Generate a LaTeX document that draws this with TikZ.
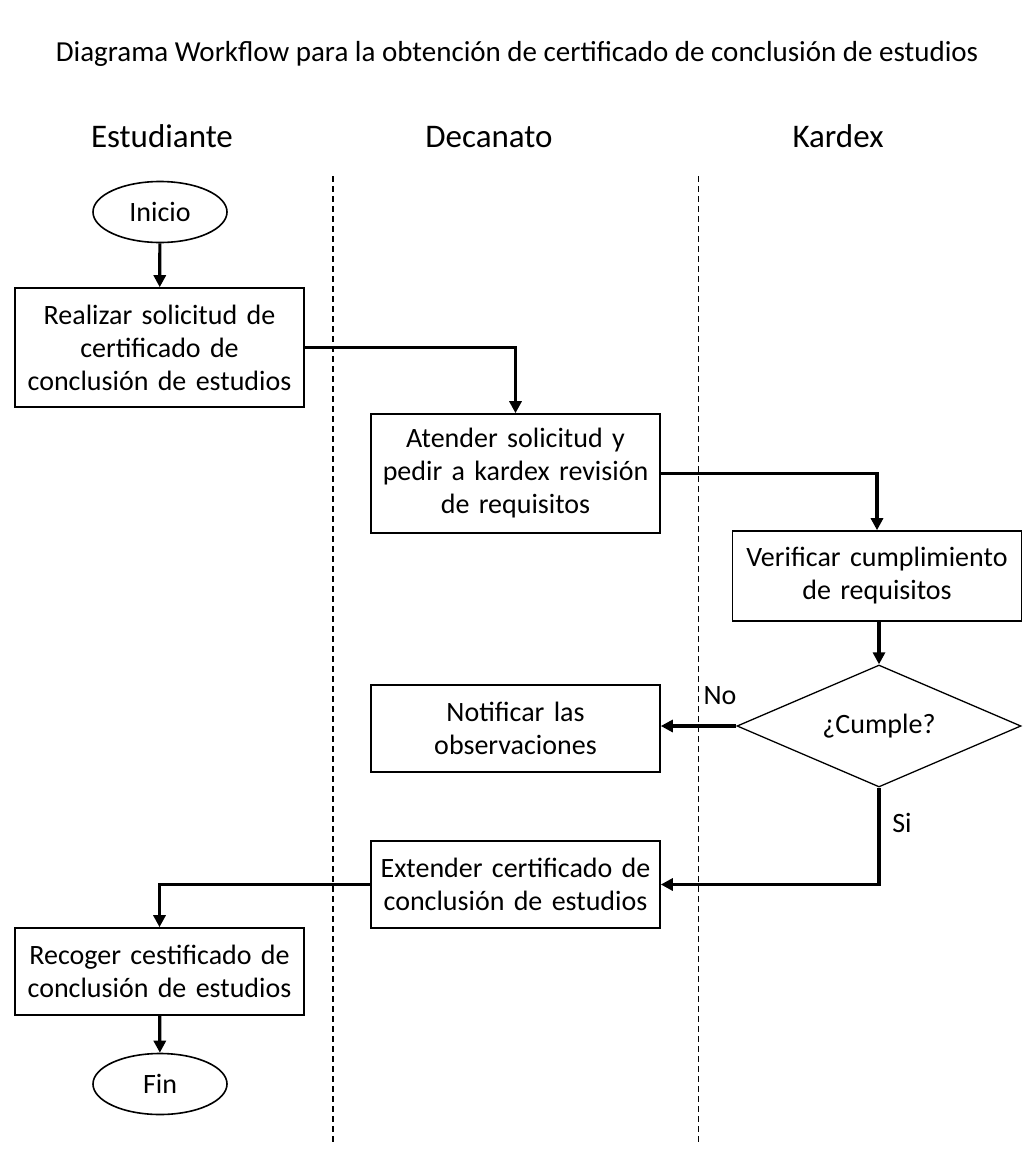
\documentclass[tikz,border=0pt]{standalone}
\usepackage{fontspec}
\setmainfont{Carlito}
\usetikzlibrary{shapes.geometric,arrows.meta}
\tikzset{
  procbox/.style={draw, line width=1.6pt, minimum width=289pt, text width=287pt, align=center, inner sep=0pt, font=\fontsize{28}{33}\selectfont},
  term/.style={draw, ellipse, line width=1.6pt, minimum width=134pt, minimum height=61pt, inner sep=0pt, font=\fontsize{28}{33}\selectfont},
  decision/.style={draw, diamond, shape aspect=2.33, line width=1.3pt, minimum width=284pt, minimum height=122pt, inner sep=0pt, font=\fontsize{28}{33}\selectfont},
  flow/.style={line width=3.2pt, -{Triangle[length=12pt,width=12pt]}},
  lane/.style={dashed, dash pattern=on 6pt off 4pt},
  lbl/.style={font=\fontsize{28}{32}\selectfont, inner sep=0pt},
  hdr/.style={font=\fontsize{33}{36}\selectfont, inner sep=0pt, anchor=base},
}
\begin{document}
\begin{tikzpicture}[x=1pt,y=-1pt]
\useasboundingbox (0,0) rectangle (1032,1149);
\fill[white] (0,0) rectangle (1032,1149);
% title & headers
\node[lbl, anchor=base, font=\fontsize{29}{32}\selectfont] (title) at (517,61) {Diagrama Workflow para la obtención de certificado de conclusión de estudios};
\node[hdr] (h1) at (162,147) {Estudiante};
\node[hdr] (h2) at (489,147) {Decanato};
\node[hdr] (h3) at (838,147) {Kardex};
% lanes
\coordinate (l1t) at (333,176); \coordinate (l1b) at (333,1145);
\coordinate (l2t) at (698,176); \coordinate (l2b) at (698,1145);
\draw[lane, line width=1.6pt] (l1t) -- (l1b);
\draw[lane, line width=0.9pt] (l2t) -- (l2b);
% nodes
\node[term] (ini) at (160,212) {Inicio};
\node[procbox, minimum height=119pt] (b1) at (159.5,347.5) {Realizar solicitud de\\certificado de\\conclusión de estudios};
\node[procbox, minimum height=119pt] (b2) at (515.5,473.5) {Atender solicitud y\\pedir a kardex revisión\\de requisitos};
\node[procbox, minimum height=90pt] (b3) at (877,576) {Verificar cumplimiento\\de requisitos};
\node[decision] (d) at (879,726) {¿Cumple?};
\node[procbox, minimum height=87pt] (b4) at (515.5,728.5) {Notificar las\\observaciones};
\node[procbox, minimum height=87pt] (b5) at (515.5,884.5) {Extender certificado de\\conclusión de estudios};
\node[procbox, minimum height=87pt] (b6) at (159.5,971.5) {Recoger cestificado de\\conclusión de estudios};
\node[term] (fin) at (160,1084) {Fin};
% connectors
\draw[flow] (ini) -- (b1);
\draw[flow] (b1.east) -| (b2.north);
\draw[flow] (b2.east) -| (b3.north);
\draw[flow] (b3.south -| d.north) -- (d.north);
\draw[flow] (d.west) -- (b4.east |- d.west);
\draw[flow] (d.south) |- (b5.east);
\draw[flow] (b5.west) -| (b6.north);
\draw[flow] (b6) -- (fin);
% labels
\node[lbl] (no) at (720,696) {No};
\node[lbl] (si) at (902,823) {Si};
\end{tikzpicture}
\end{document}
